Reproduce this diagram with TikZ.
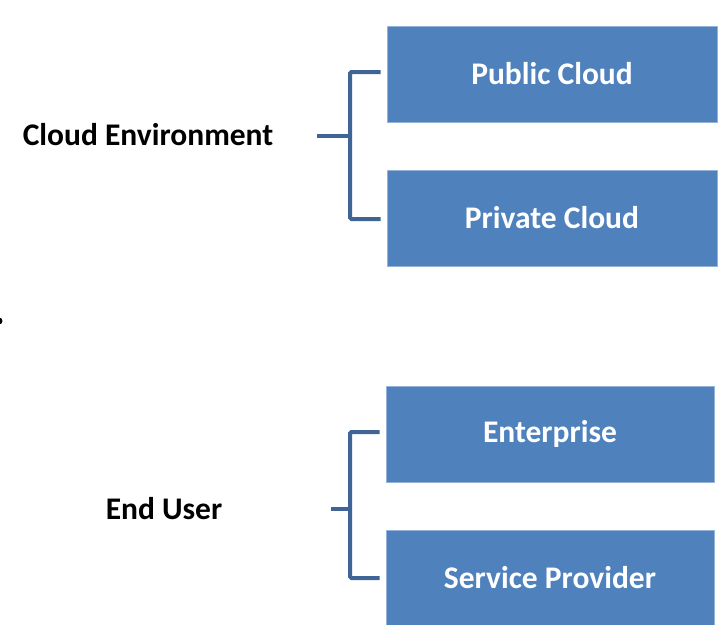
\documentclass[tikz,border=0pt]{standalone}
\usepackage{fontspec}
\setmainfont{Carlito}
\definecolor{boxblue}{HTML}{4F81BD}
\definecolor{brackblue}{HTML}{3E6595}
\tikzset{
  catbox/.style={rectangle, fill=boxblue, draw=boxblue!60!white, line width=0.6pt, minimum height=96, inner sep=0pt, text=white, font=\fontsize{31.5}{36}\selectfont\bfseries},
  lbl/.style={inner sep=0pt, font=\fontsize{31.5}{36}\selectfont\bfseries, text=black},
  bracket/.style={draw=brackblue, line width=4pt, rounded corners=1.5pt}
}
\begin{document}
\begin{tikzpicture}[x=1pt,y=-1pt]
\useasboundingbox (0,0) rectangle (719,624);
% top group
\node[catbox, minimum width=330] (pub) at (552,74) {Public Cloud};
\node[catbox, minimum width=330] (priv) at (552,218) {Private Cloud};
\node[lbl] (ce) at (148,135) {Cloud Environment};
\coordinate (s1) at (350,135.5);
\coordinate (t1) at (317,135.5);
\draw[bracket] ([xshift=-6]pub.west |- 0,72) -- (350,72) -- (350,219) -- ([xshift=-6]priv.west |- 0,219);
\draw[bracket] (t1) -- (s1);
% bottom group
\node[catbox, minimum width=328] (ent) at (550,434) {Enterprise};
\node[catbox, minimum width=328] (sp) at (550,578) {Service Provider};
\node[lbl] (eu) at (164,509) {End User};
\coordinate (s2) at (350,509);
\coordinate (t2) at (331,509);
\draw[bracket] ([xshift=-6]ent.west |- 0,432) -- (350,432) -- (350,578) -- ([xshift=-6]sp.west);
\draw[bracket] (t2) -- (s2);
% stray bullet
\fill[black] (-1,321) circle (3.5);
\end{tikzpicture}
\end{document}
